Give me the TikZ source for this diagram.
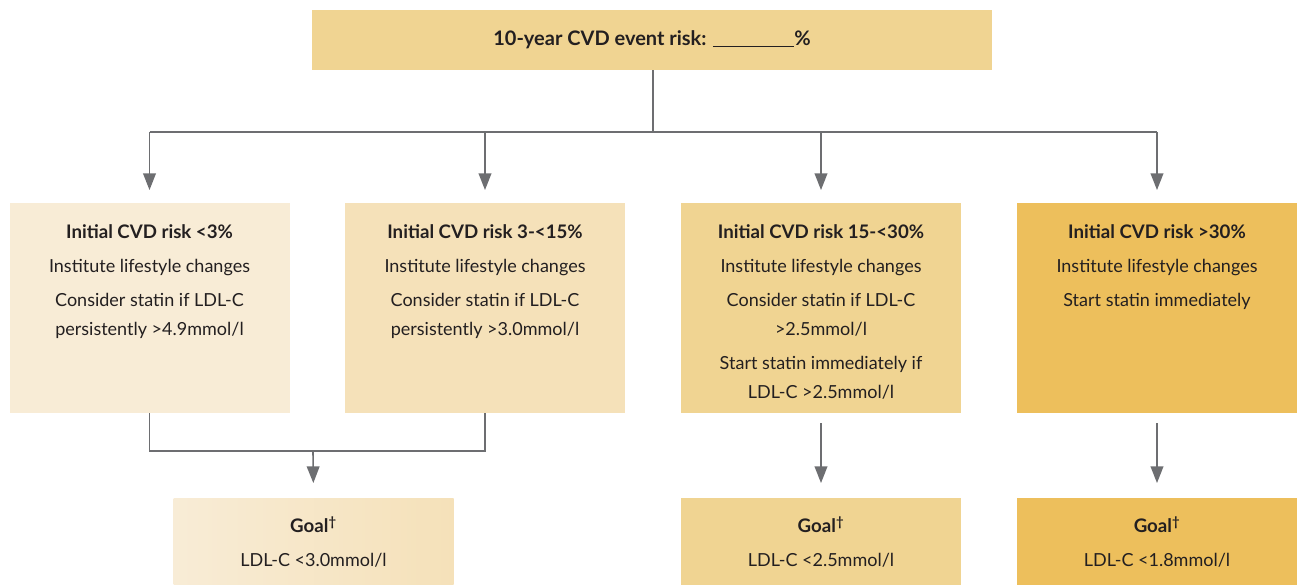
\documentclass[tikz,border=0pt]{standalone}
\usepackage{fontspec}
\setmainfont{Lato}
\usetikzlibrary{arrows.meta}

\definecolor{riskA}{HTML}{F8ECD6}
\definecolor{riskB}{HTML}{F5E1B9}
\definecolor{riskC}{HTML}{F0D492}
\definecolor{riskD}{HTML}{EDBF5C}
\definecolor{linegray}{HTML}{6D6E71}
\definecolor{ink}{HTML}{231F20}

\newcommand{\hd}[1]{{\fontsize{14}{21}\selectfont\bfseries #1}}

\begin{document}
\begin{tikzpicture}[x=0.75pt,y=-0.75pt]
  \def\bw{210pt}
  \def\bh{157.5pt}

\tikzstyle{box}=[rectangle,minimum width=\bw,minimum height=\bh,inner sep=0pt]
\tikzstyle{goalbox}=[rectangle,minimum width=\bw,minimum height=66pt,inner sep=0pt,align=center,text=ink,font=\fontsize{13.5}{21.5}\selectfont]
\tikzstyle{txt}=[align=center,inner sep=0pt,anchor=north,text=ink,font=\fontsize{13.5}{21.5}\selectfont]
\tikzstyle{line}=[draw=linegray,line width=1.2pt]
\tikzstyle{arr}=[line,-{Triangle[length=12.5pt,width=9.5pt]},fill=linegray]

\useasboundingbox (0,0) rectangle (1303,585);

% event risk
\node[rectangle,fill=riskC,minimum width=510pt,minimum height=45pt,inner sep=0pt,
  text=ink,font=\fontsize{15}{21}\selectfont] (top) at (652,40)
  {\bfseries 10-year CVD event risk: \rule[-1pt]{61pt}{0.6pt}\%};

% risk groups
\node[box,fill=riskA] (b1) at (149.5,308) {};
\node[txt,yshift=-16.5pt] (t1) at (b1.north) {\hd{Initial CVD risk <3\%}\\[4pt]
  Institute lifestyle changes\\[4pt]
  Consider statin if LDL-C\\ persistently >4.9mmol/l};
\node[box,fill=riskB] (b2) at (485,308) {};
\node[txt,yshift=-16.5pt] (t2) at (b2.north) {\hd{Initial CVD risk 3-<15\%}\\[4pt]
  Institute lifestyle changes\\[4pt]
  Consider statin if LDL-C\\ persistently >3.0mmol/l};
\node[box,fill=riskC] (b3) at (821,308) {};
\node[txt,yshift=-16.5pt] (t3) at (b3.north) {\hd{Initial CVD risk 15-<30\%}\\[4pt]
  Institute lifestyle changes\\[4pt]
  Consider statin if LDL-C\\ >2.5mmol/l\\[4pt]
  Start statin immediately if\\ LDL-C >2.5mmol/l};
\node[box,fill=riskD] (b4) at (1157,308) {};
\node[txt,yshift=-16.5pt] (t4) at (b4.north) {\hd{Initial CVD risk >30\%}\\[4pt]
  Institute lifestyle changes\\[4pt]
  Start statin immediately};

% goals
\node[goalbox,left color=riskA,right color=riskB] (g1) at (313.5,542)
  {\hd{Goal\textsuperscript{\textdagger}}\\[4pt] LDL-C <3.0mmol/l};
\node[goalbox,fill=riskC] (g3) at (821,542)
  {\hd{Goal\textsuperscript{\textdagger}}\\[4pt] LDL-C <2.5mmol/l};
\node[goalbox,fill=riskD] (g4) at (1157,542)
  {\hd{Goal\textsuperscript{\textdagger}}\\[4pt] LDL-C <1.8mmol/l};

% connectors
\coordinate (bus) at (653,132);
\coordinate (join) at (313,451);
\draw[line] (top.south -| bus) -- (bus);
\draw[line] (b1.north |- bus) -- (b4.north |- bus);
\foreach \b in {b1,b2,b3,b4}
  \draw[arr,shorten >=9.5pt] (\b.north |- bus) -- (\b.north);
\draw[line] (b1.south) -- (b1.south |- join) -- (b2.south |- join) -- (b2.south);
\draw[arr,shorten >=11pt] (join) -- (g1.north);
\draw[arr,shorten <=7.5pt,shorten >=11pt] (b3.south) -- (g3.north);
\draw[arr,shorten <=7.5pt,shorten >=11pt] (b4.south) -- (g4.north);
\end{tikzpicture}
\end{document}
